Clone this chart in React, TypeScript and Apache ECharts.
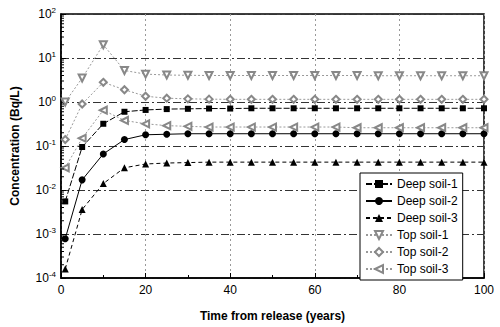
import React, { useEffect, useRef } from "react";
import * as echarts from "echarts";

const years = [1, 5, 10, 15, 20, 25, 30, 35, 40, 45, 50, 55, 60, 65, 70, 75, 80, 85, 90, 95, 100];
const deep1 = [0.0055, 0.095, 0.32, 0.6, 0.66, 0.69, 0.7, 0.71, 0.71, 0.72, 0.72, 0.72, 0.72, 0.72, 0.72, 0.72, 0.72, 0.72, 0.72, 0.72, 0.72];
const deep2 = [0.00078, 0.017, 0.066, 0.14, 0.18, 0.185, 0.19, 0.19, 0.19, 0.19, 0.19, 0.19, 0.19, 0.19, 0.19, 0.19, 0.19, 0.19, 0.19, 0.19, 0.19];
const deep3 = [0.00016, 0.0036, 0.014, 0.032, 0.039, 0.041, 0.042, 0.043, 0.043, 0.043, 0.043, 0.043, 0.043, 0.043, 0.043, 0.043, 0.043, 0.043, 0.043, 0.043, 0.043];
const top1 = [1.0, 3.5, 20, 5.2, 4.3, 4.1, 4.05, 4.0, 4.0, 4.0, 4.0, 4.0, 4.0, 4.0, 4.0, 3.95, 3.95, 3.95, 3.95, 3.95, 3.95];
const top2 = [0.14, 0.9, 2.8, 1.9, 1.35, 1.22, 1.18, 1.16, 1.15, 1.15, 1.15, 1.15, 1.15, 1.15, 1.15, 1.15, 1.15, 1.15, 1.15, 1.15, 1.15];
const top3 = [0.032, 0.15, 0.65, 0.38, 0.32, 0.29, 0.28, 0.27, 0.27, 0.27, 0.27, 0.27, 0.27, 0.27, 0.26, 0.26, 0.26, 0.26, 0.26, 0.26, 0.26];
const seriesNames = ["Deep soil-1", "Deep soil-2", "Deep soil-3", "Top soil-1", "Top soil-2", "Top soil-3"];
const minorTickValues = [-4, -3, -2, -1, 0, 1].flatMap((k) => [2, 3, 4, 5, 6, 7, 8, 9].map((m) => m * Math.pow(10, k)));

const FONT = "Liberation Sans, Arial, sans-serif";

export default function App() {
  const ref = useRef<HTMLDivElement>(null);
  useEffect(() => {
    if (!ref.current) return;
    const chart = echarts.init(ref.current, null, { renderer: "svg" });
    const pairs = (vals: number[]) => years.map((x, i) => [x, vals[i]]);
    const deepStyle = (type: any) => ({ color: "#000", width: 1, type });
    const topStyle = { color: "#999", width: 1, type: [2, 2] as any };
    chart.setOption({
      animation: false,
      textStyle: { fontFamily: FONT },
      grid: { left: 61, right: 16, top: 14, bottom: 45, show: true, borderColor: "#000", borderWidth: 1.5, backgroundColor: "transparent" },
      legend: {
        data: seriesNames,
        orient: "vertical",
        left: 360,
        top: 173,
        itemGap: 5,
        itemWidth: 26,
        itemHeight: 10,
        padding: [5, 5, 5, 5],
        borderColor: "#000",
        borderWidth: 1,
        borderRadius: 0,
        backgroundColor: "#fff",
        textStyle: { fontSize: 12, color: "#000", fontFamily: FONT },
      },
      xAxis: {
        type: "value",
        min: 0,
        max: 100,
        interval: 20,
        name: "Time from release (years)",
        nameLocation: "middle",
        nameGap: 32,
        nameTextStyle: { fontSize: 12, fontWeight: "bold", color: "#000", fontFamily: FONT },
        axisLine: { show: true, lineStyle: { color: "#000", width: 1.5 } },
        axisTick: { show: true, inside: true, length: 5, lineStyle: { color: "#000" } },
        minorTick: { show: true, splitNumber: 2, length: 3, lineStyle: { color: "#000" } },
        axisLabel: { fontSize: 12, color: "#000", margin: 6, fontFamily: FONT },
        splitLine: { show: true, lineStyle: { color: "#999", width: 1, type: [2, 3] } },
      },
      yAxis: {
        type: "log",
        logBase: 10,
        min: 1e-4,
        max: 100,
        name: "Concentration (Bq/L)",
        nameLocation: "middle",
        nameGap: 40,
        nameTextStyle: { fontSize: 12, fontWeight: "bold", color: "#000", fontFamily: FONT },
        axisLine: { show: true, lineStyle: { color: "#000", width: 1.5 } },
        axisTick: { show: true, inside: true, length: 5, lineStyle: { color: "#000" } },
        axisLabel: {
          color: "#000",
          margin: 5,
          fontFamily: FONT,
          formatter: (v: number) => `10{s|${Math.round(Math.log10(v))}}`,
          rich: { s: { fontSize: 8, padding: [0, 0, 8, 0], color: "#000", fontFamily: FONT } },
          fontSize: 12,
        },
        splitLine: { show: true, lineStyle: { color: "#333", width: 1, type: [8, 3, 2, 3] } },
      },
      series: [
        {
          type: "custom",
          silent: true,
          data: minorTickValues.map((v) => [0, v]),
          renderItem: (params: any, api: any) => {
            const p = api.coord([0, api.value(1)]);
            return { type: "line", shape: { x1: p[0], y1: p[1], x2: p[0] + 3, y2: p[1] }, style: { stroke: "#000", lineWidth: 1 } };
          },
          z: 5,
        },
        { name: "Deep soil-1", type: "line", data: pairs(deep1), symbol: "rect", symbolSize: 6, itemStyle: { color: "#000" }, lineStyle: deepStyle([6, 2]) },
        { name: "Deep soil-2", type: "line", data: pairs(deep2), symbol: "circle", symbolSize: 7, itemStyle: { color: "#000" }, lineStyle: deepStyle("solid") },
        { name: "Deep soil-3", type: "line", data: pairs(deep3), symbol: "triangle", symbolSize: 7, itemStyle: { color: "#000" }, lineStyle: deepStyle([4, 3]) },
        { name: "Top soil-1", type: "line", data: pairs(top1), symbol: "emptyTriangle", symbolRotate: 180, symbolSize: 7, itemStyle: { color: "#888" }, lineStyle: topStyle },
        { name: "Top soil-2", type: "line", data: pairs(top2), symbol: "emptyDiamond", symbolSize: 7, itemStyle: { color: "#888" }, lineStyle: topStyle },
        { name: "Top soil-3", type: "line", data: pairs(top3), symbol: "emptyTriangle", symbolRotate: 90, symbolSize: 7, itemStyle: { color: "#888" }, lineStyle: topStyle },
      ],
    });
    return () => chart.dispose();
  }, []);
  return <div ref={ref} style={{ width: 500, height: 327, position: "absolute", left: 0, top: 0, background: "#fff" }} />;
}
